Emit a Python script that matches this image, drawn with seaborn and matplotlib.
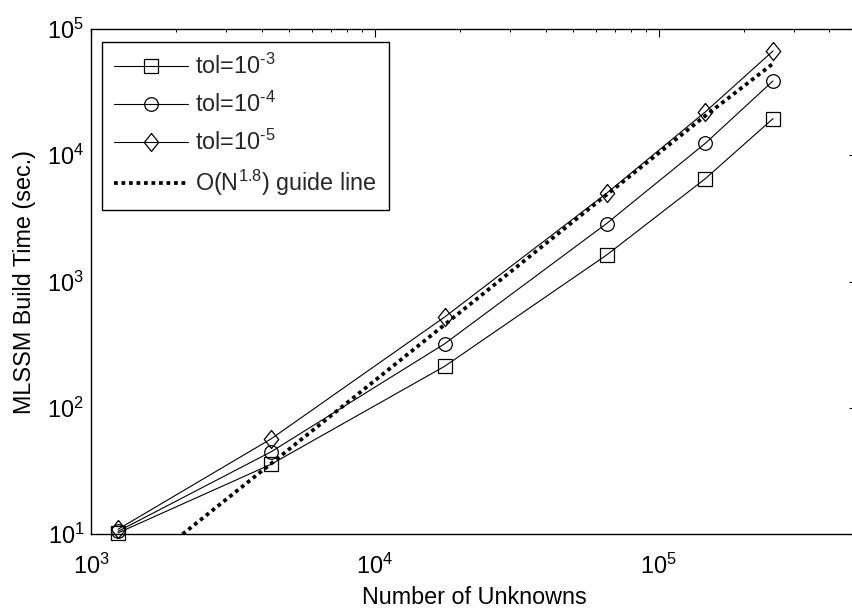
import numpy as np
import pandas as pd
import matplotlib
matplotlib.use("Agg")
import matplotlib.pyplot as plt
import seaborn as sns

# ---- data ----
unknowns = [1245, 4305, 17620, 65600, 145900, 253000]
tol_1e3 = [10.2, 35.6, 213, 1622, 6510, 19500]
tol_1e4 = [10.5, 44.7, 321, 2880, 12400, 38800]
tol_1e5 = [10.9, 56.6, 523, 5000, 22000, 67000]
guide_18 = [3.9, 36, 455, 4870, 20500, 53200]

labels = [r"tol=$10^{\text{-}3}$", r"tol=$10^{\text{-}4}$", r"tol=$10^{\text{-}5}$",
          r"O(N$^{1.8}$) guide line"]
x_label = "Number of Unknowns"
y_label = "MLSSM Build Time (sec.)"

sns.set_theme(style="white")
plt.rcParams["font.family"] = ["Liberation Sans", "DejaVu Sans"]
plt.rcParams["mathtext.fontset"] = "custom"
plt.rcParams["mathtext.rm"] = "Liberation Sans"
plt.rcParams["mathtext.it"] = "Liberation Sans:italic"
plt.rcParams["mathtext.bf"] = "Liberation Sans:bold"

FS = 16.8
fig = plt.figure(figsize=(8.52, 6.14), dpi=100)
ax = fig.add_axes([91 / 852, 1 - 534 / 614, 766 / 852, 505 / 614])

diamond = [(0, 1), (0.8, 0), (0, -1), (-0.8, 0), (0, 1)]
series = [(tol_1e3, "s", 9.5), (tol_1e4, "o", 9.8), (tol_1e5, diamond, 13)]
for (vals, mk, ms), lab in zip(series, labels[:3]):
    sns.lineplot(x=unknowns, y=vals, ax=ax, color="black", lw=0.8,
                 marker=mk, markersize=ms, markerfacecolor="none",
                 markeredgecolor="black", markeredgewidth=0.9,
                 label=lab, clip_on=False, zorder=3)

sns.lineplot(x=unknowns, y=guide_18, ax=ax, color="black", lw=2.7,
             linestyle=(0, (1, 1)), label=labels[3], zorder=2)

ax.set_xscale("log")
ax.set_yscale("log")
ax.set_xlim(1e3, 10 ** 5.699)
ax.set_ylim(10, 1e5)

for s in ax.spines.values():
    s.set_color("black")
    s.set_linewidth(1.0)

ax.tick_params(which="both", direction="in", top=True, right=True,
               colors="black", labelsize=FS)
ax.tick_params(which="major", length=5.5, width=0.8)
ax.tick_params(which="minor", length=2.5, width=0.7)
ax.tick_params(axis="x", which="major", pad=14)
ax.tick_params(axis="y", which="major", pad=5)
ax.xaxis.set_minor_locator(matplotlib.ticker.LogLocator(base=10, subs=np.arange(2, 10)))
ax.yaxis.set_minor_locator(matplotlib.ticker.LogLocator(base=10, subs=np.arange(2, 10)))
ax.xaxis.set_minor_formatter(matplotlib.ticker.NullFormatter())
ax.yaxis.set_minor_formatter(matplotlib.ticker.NullFormatter())

ax.set_xlabel(x_label, fontsize=FS, labelpad=5, color="black")
ax.set_ylabel(y_label, fontsize=FS, labelpad=8, color="black")

leg = ax.legend(loc="upper left", bbox_to_anchor=(11 / 766, 1 - 13 / 505),
                fontsize=FS, frameon=True, fancybox=False, framealpha=1,
                edgecolor="black", handlelength=3.2, handletextpad=0.3,
                labelspacing=0.55, borderpad=0.5, borderaxespad=0)
leg.get_frame().set_linewidth(1.0)

fig.savefig("out.png", dpi=100)
